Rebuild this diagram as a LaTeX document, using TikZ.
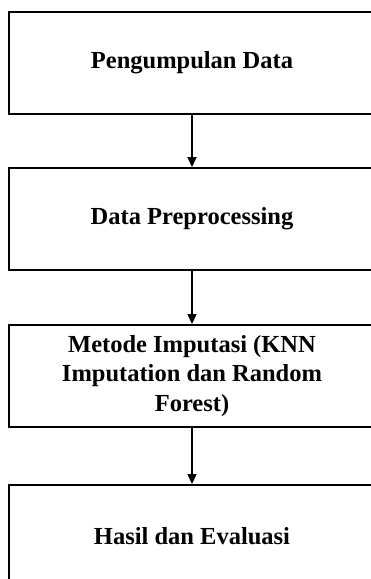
\documentclass[tikz,border=0pt]{standalone}
\usepackage{fontspec}
\setmainfont{Liberation Serif}
\usetikzlibrary{positioning,arrows.meta}

\begin{document}
\begin{tikzpicture}[-{Triangle[width=9pt,length=10pt]},auto,node distance=52pt,
  line width=1.8pt,main node/.style={rectangle,draw,line width=2pt,minimum width=366pt,minimum height=102pt,
  align=center,font=\fontsize{24.5}{29.5}\selectfont\bfseries}]
  \useasboundingbox (0,0) rectangle (371pt,-579pt);
  \clip (0,0) rectangle (371pt,-579pt);

  \node[main node] (1) at (192pt,-63pt) {Pengumpulan Data};
  \node[main node] (2) [below=of 1] {Data Preprocessing};
  \node[main node] (3) [below=53pt of 2] {Metode Imputasi (KNN\\Imputation dan Random\\Forest)};
  \node[main node] (4) [below=56pt of 3] {Hasil dan Evaluasi};

  \path
  (1) edge (2)
  (2) edge (3)
  (3) edge (4);
\end{tikzpicture}
\end{document}
